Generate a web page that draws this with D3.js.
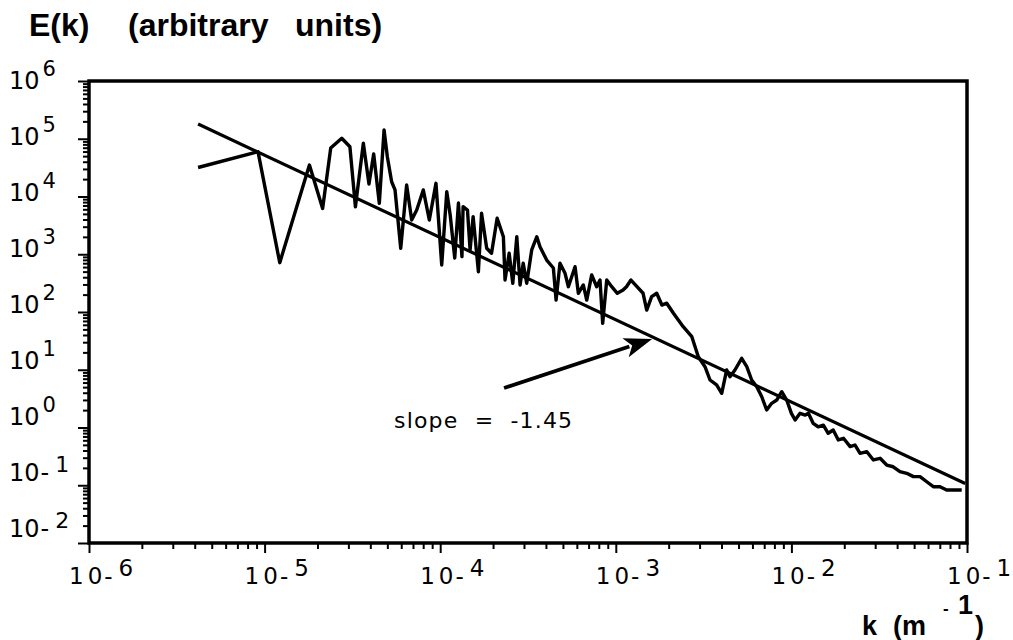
<!DOCTYPE html>
<html>
<head>
<meta charset="utf-8">
<script src="https://cdn.jsdelivr.net/npm/d3@7"></script>
<style>
  html, body { margin: 0; padding: 0; background: #fff; }
  svg { display: block; }
  text { white-space: pre; }
</style>
</head>
<body>
<svg id="chart" width="1013" height="640"></svg>
<script>
// ---- data ----
const kVals = [4.18e-6, 9.17e-6, 1.22e-5, 1.80e-5, 2.14e-5, 2.38e-5, 2.75e-5, 3.06e-5, 3.29e-5, 3.65e-5,
  3.93e-5, 4.18e-5, 4.50e-5, 4.79e-5, 5.00e-5, 5.29e-5, 5.53e-5, 5.96e-5, 6.17e-5, 6.44e-5,
  6.88e-5, 7.35e-5, 8.01e-5, 8.67e-5, 9.46e-5, 1.02e-4, 1.09e-4, 1.14e-4, 1.21e-4, 1.27e-4,
  1.33e-4, 1.35e-4, 1.43e-4, 1.48e-4, 1.54e-4, 1.65e-4, 1.72e-4, 1.84e-4, 1.96e-4, 2.11e-4,
  2.29e-4, 2.34e-4, 2.47e-4, 2.59e-4, 2.73e-4, 2.85e-4, 2.97e-4, 3.11e-4, 3.32e-4, 3.55e-4,
  3.70e-4, 4.04e-4, 4.41e-4, 4.57e-4, 4.81e-4, 5.14e-4, 5.37e-4, 5.86e-4, 6.12e-4, 6.53e-4,
  6.83e-4, 7.29e-4, 7.78e-4, 8.13e-4, 8.42e-4, 8.88e-4, 9.48e-4, 1.02e-3, 1.10e-3, 1.15e-3,
  1.22e-3, 1.32e-3, 1.43e-3, 1.50e-3, 1.60e-3, 1.71e-3, 1.83e-3, 1.95e-3, 2.13e-3, 2.27e-3,
  2.42e-3, 2.71e-3, 2.95e-3, 3.22e-3, 3.44e-3, 3.75e-3, 4.01e-3, 4.28e-3, 4.47e-3, 4.77e-3,
  5.21e-3, 5.57e-3, 5.94e-3, 6.35e-3, 6.78e-3, 7.23e-3, 7.72e-3, 8.25e-3, 8.81e-3, 9.40e-3,
  1.00e-2, 1.05e-2, 1.12e-2, 1.20e-2, 1.25e-2, 1.33e-2, 1.42e-2, 1.52e-2, 1.62e-2, 1.73e-2,
  1.85e-2, 1.98e-2, 2.16e-2, 2.30e-2, 2.46e-2, 2.69e-2, 2.93e-2, 3.20e-2, 3.49e-2, 3.80e-2,
  4.15e-2, 4.54e-2, 4.95e-2, 5.40e-2, 5.90e-2, 6.43e-2, 7.02e-2, 7.66e-2, 8.36e-2, 9.33e-2];

const eVals = [3.18e4, 5.97e4, 7.14e2, 3.51e4, 6.20e3, 6.92e4, 1.02e5, 7.28e4, 6.65e3, 8.34e4,
  1.64e4, 5.44e4, 7.62e3, 1.42e5, 4.89e4, 1.80e4, 1.30e4, 1.27e3, 3.92e3, 1.58e4,
  3.92e3, 5.83e3, 1.30e4, 3.92e3, 1.69e4, 6.52e2, 1.21e4, 4.79e3, 8.61e2, 7.71e3,
  9.08e2, 6.65e3, 5.83e3, 1.19e3, 4.47e3, 4.99e2, 5.12e3, 1.27e3, 1.04e3, 4.20e3,
  2.01e3, 3.58e2, 1.04e3, 3.14e2, 2.01e3, 2.94e2, 6.97e2, 3.14e2, 1.19e3, 2.01e3,
  1.35e3, 7.94e2, 5.78e2, 1.61e2, 6.97e2, 4.68e2, 2.74e2, 6.08e2, 2.11e2, 2.94e2,
  1.61e2, 4.38e2, 2.74e2, 3.58e2, 63.7, 3.58e2, 2.74e2, 2.11e2, 2.40e2, 2.74e2,
  3.58e2, 2.74e2, 2.11e2, 1.08e2, 1.84e2, 2.11e2, 1.32e2, 1.42e2, 95.0, 72.6,
  55.6, 37.3, 16.8, 11.3, 6.65, 5.45, 3.91, 9.91, 7.59, 9.91,
  15.8, 11.3, 6.65, 5.08, 3.41, 2.01, 2.62, 2.99, 4.17, 2.99,
  1.76, 1.35, 1.76, 1.64, 1.76, 1.18, 1.03, 1.10, 0.794, 0.906,
  0.608, 0.650, 0.466, 0.498, 0.357, 0.381, 0.274, 0.293, 0.224, 0.209,
  0.172, 0.161, 0.141, 0.141, 0.115, 0.0944, 0.0944, 0.0828, 0.0828, 0.0828];

// fitted power law (slope -1.45), end points
const fitK = [4.18e-6, 9.77e-2];
const fitE = [1.8e5, 0.107];

// annotation arrow (tail, tip) and label
const arrowK = [2.31e-4, 1.61e-3];
const arrowE = [4.83, 34.1];
const slopeLabel = "slope  =  -1.45";
const slopeLabelAt = [5.46e-5, 0.98];

// axis ticks
const xMajor = [1e-6, 1e-5, 1e-4, 1e-3, 1e-2, 1e-1];
const xExps = ["6", "5", "4", "3", "2", "1"];            // shown as 10^-n
const yMajor = [1e6, 1e5, 1e4, 1e3, 1e2, 1e1, 1e0, 1e-1, 1e-2];
const yExps = ["6", "5", "4", "3", "2", "1", "0", "-1", "-2"];
const titleParts = ["E(k)", "(arbitrary", "units)"];

// ---- chart ----
const svg = d3.select("#chart");
const x = d3.scaleLog().domain([1e-6, 1e-1]).range([89, 967]);
const y = d3.scaleLog().domain([1e-2, 1e6]).range([543, 81]);

function minorOf(majors) {
  const out = [];
  majors.slice().sort((a, b) => a - b).slice(0, -1).forEach(m => {
    for (let i = 2; i <= 9; i++) out.push(m * i);
  });
  return out;
}
const xMinor = minorOf(xMajor);
const yMinor = minorOf(yMajor);

const font = "'DejaVu Sans', Verdana, sans-serif";
const boldFont = "'Liberation Sans', Arial, Helvetica, sans-serif";

function styleAxis(g) {
  g.select(".domain").remove();
  g.selectAll(".tick line").attr("stroke", "#000").attr("stroke-width", 2);
}
svg.append("g").attr("transform", "translate(0,543)")
  .call(d3.axisBottom(x).tickValues(xMinor).tickSize(6).tickFormat(""))
  .call(styleAxis);
svg.append("g").attr("transform", "translate(0,543)")
  .call(d3.axisBottom(x).tickValues(xMajor).tickSize(10).tickFormat(""))
  .call(styleAxis);
svg.append("g").attr("transform", "translate(89,0)")
  .call(d3.axisLeft(y).tickValues(yMinor).tickSize(6).tickFormat(""))
  .call(styleAxis);
svg.append("g").attr("transform", "translate(89,0)")
  .call(d3.axisLeft(y).tickValues(yMajor).tickSize(11).tickFormat(""))
  .call(styleAxis);

// frame
svg.append("rect")
  .attr("x", x(1e-6)).attr("y", y(1e6))
  .attr("width", x(1e-1) - x(1e-6)).attr("height", y(1e-2) - y(1e6))
  .attr("fill", "none").attr("stroke", "#000").attr("stroke-width", 3.5);

// fit line
svg.append("path")
  .attr("d", d3.line()(fitK.map((k, i) => [x(k), y(fitE[i])])))
  .attr("fill", "none").attr("stroke", "#000").attr("stroke-width", 3.2);

// spectrum
svg.append("path")
  .attr("d", d3.line()(kVals.map((k, i) => [x(k), y(eVals[i])])))
  .attr("fill", "none").attr("stroke", "#000").attr("stroke-width", 3.4)
  .attr("stroke-linejoin", "round");

// arrow
const ax0 = x(arrowK[0]), ay0 = y(arrowE[0]), ax1 = x(arrowK[1]), ay1 = y(arrowE[1]);
const ang = Math.atan2(ay1 - ay0, ax1 - ax0);
const headL = 28, headW = 10;
const bx = ax1 - headL * Math.cos(ang), by = ay1 - headL * Math.sin(ang);
svg.append("line").attr("x1", ax0).attr("y1", ay0).attr("x2", bx + 4 * Math.cos(ang)).attr("y2", by + 4 * Math.sin(ang))
  .attr("stroke", "#000").attr("stroke-width", 3.8);
svg.append("path")
  .attr("d", `M${ax1},${ay1} L${bx + headW * Math.sin(ang)},${by - headW * Math.cos(ang)} L${bx + 7 * Math.cos(ang)},${by + 7 * Math.sin(ang)} L${bx - headW * Math.sin(ang)},${by + headW * Math.cos(ang)} Z`)
  .attr("fill", "#000");

svg.append("text")
  .attr("x", x(slopeLabelAt[0])).attr("y", y(slopeLabelAt[1]))
  .attr("font-family", font).attr("font-size", 22)
  .attr("textLength", 178).attr("lengthAdjust", "spacing")
  .text(slopeLabel);

// y tick labels
yMajor.forEach((v, i) => {
  const t = svg.append("text")
    .attr("x", 9).attr("y", y(v) + 8 - 1.75 * i)
    .attr("font-family", font).attr("font-size", 24);
  t.append("tspan").text("10");
  const e = yExps[i];
  if (e.startsWith("-")) {
    t.append("tspan").attr("dx", 1).text("-");
    t.append("tspan").attr("dx", 6).attr("dy", -9).attr("font-size", 22).text(e.slice(1));
  } else {
    t.append("tspan").attr("dx", 3).attr("dy", -13).attr("font-size", 21).text(e);
  }
});

// x tick labels
xMajor.forEach((v, i) => {
  const t = svg.append("text")
    .attr("x", x(v) - 20).attr("y", 584)
    .attr("font-family", font).attr("font-size", 23);
  t.append("tspan").attr("letter-spacing", 4).text("10");
  t.append("tspan").attr("dx", -2).text("-");
  t.append("tspan").attr("dx", 6).attr("dy", -8).text(xExps[i]);
});

// titles
const tAttrs = t => t.attr("font-family", boldFont).attr("font-weight", "bold").attr("font-size", 32);
svg.append("text").attr("x", 29).attr("y", 36).call(tAttrs).text(titleParts[0]);
svg.append("text").attr("x", 128).attr("y", 36).call(tAttrs).text(titleParts[1]);
svg.append("text").attr("x", 295).attr("y", 36).call(tAttrs).text(titleParts[2]);

const xt = svg.append("text").attr("x", 862).attr("y", 635)
  .attr("font-family", boldFont).attr("font-weight", "bold").attr("font-size", 27);
xt.append("tspan").text("k");
xt.append("tspan").attr("x", 893).text("(m");
xt.append("tspan").attr("x", 943).attr("dy", -21).attr("font-size", 17).text("-");
xt.append("tspan").attr("x", 958).text("1");
xt.append("tspan").attr("x", 975).attr("dy", 21).text(")");
</script>
</body>
</html>
